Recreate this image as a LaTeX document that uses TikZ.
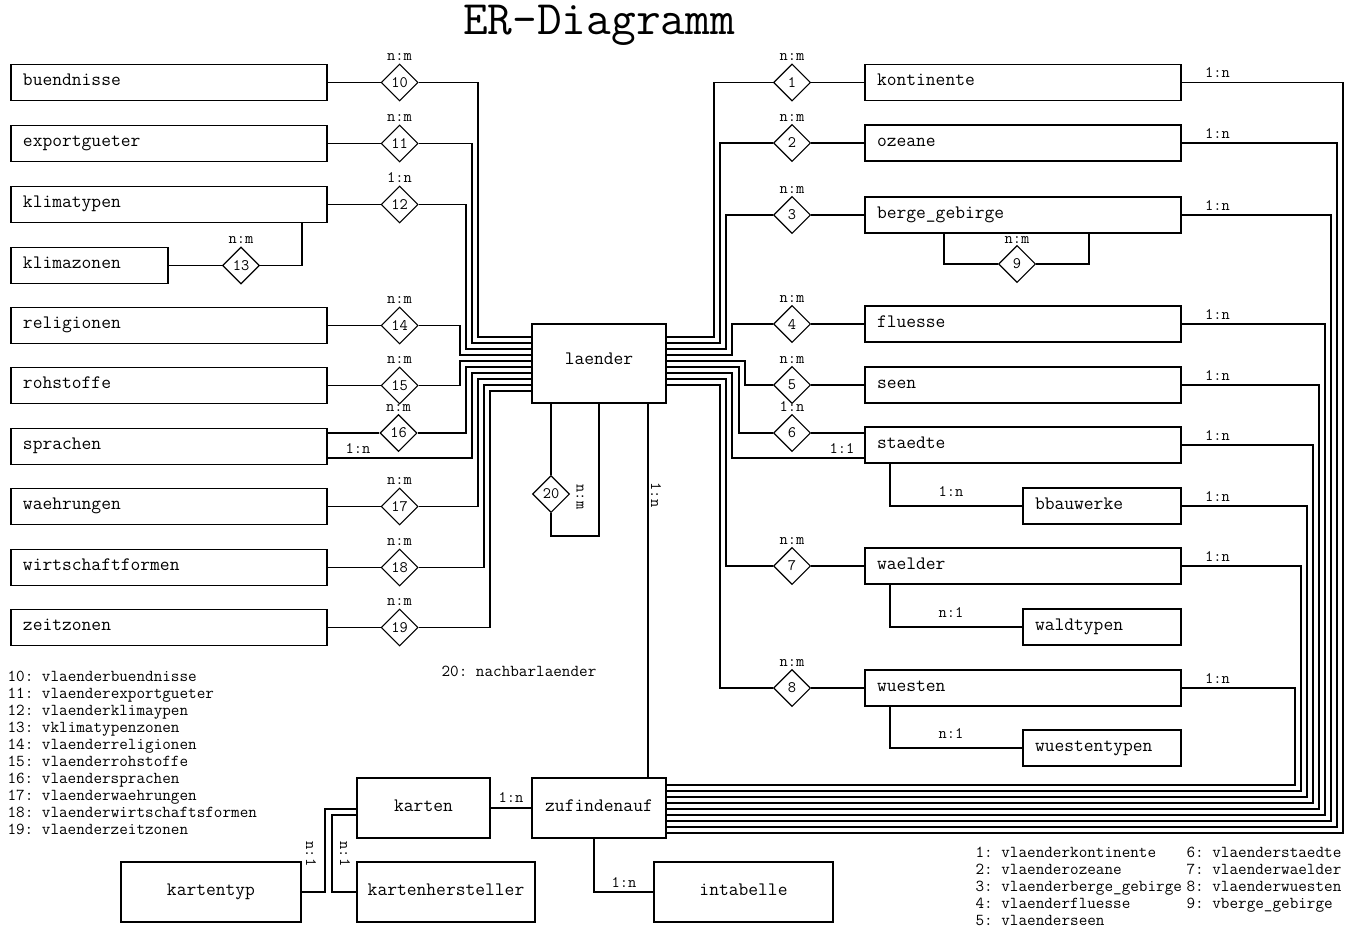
\documentclass[tikz,border=0pt]{standalone}
\usetikzlibrary{shapes.geometric,positioning}
\newcommand\entfont{\ttfamily\fontsize{19}{20}\selectfont}
\newcommand\lblfont{\ttfamily\fontsize{16}{17}\selectfont}
\newcommand\legfont{\ttfamily\fontsize{16.7}{17}\selectfont}
\frenchspacing
\tikzset{
  ent/.style={draw,rectangle,inner sep=0pt,minimum height=36pt,text height=1.6ex,text depth=0pt,font=\entfont},
  entl/.style={ent,inner xsep=12pt,align=left,text width=#1},
  rel/.style={draw,diamond,aspect=1,minimum size=37pt,inner sep=0pt,font=\lblfont},
  lbl/.style={inner sep=0pt,font=\lblfont},
  legend/.style={inner sep=0pt,anchor=base west,font=\legfont}
}
\begin{document}
\begin{tikzpicture}[x=1pt,y=-1pt,line width=1.1pt]
\useasboundingbox (0,0) rectangle (1346,928);

\node[inner sep=0pt,anchor=base,font=\ttfamily\fontsize{48}{48}\selectfont] (title) at (599,35) {ER-Diagramm};

% left entities and their relations
\foreach \n/\y in {buendnisse/82.5,exportgueter/143.5,klimatypen/204.5,religionen/325.5,rohstoffe/385.5,sprachen/446.5,waehrungen/506.5,wirtschaftformen/567.5,zeitzonen/627.5}
  \node[entl=292pt] (\n) at (169,\y) {\n};
\node[entl=133pt] (klimazonen) at (89.5,265.5) {klimazonen};

\foreach \n/\r in {buendnisse/10,exportgueter/11,klimatypen/12,religionen/14,rohstoffe/15,waehrungen/17,wirtschaftformen/18,zeitzonen/19}{
  \node[rel,right=53pt of \n] (r\r) {\r};
  \draw (\n) -- (r\r);
}
\node[rel] (r16) at (398.5,433) {16};
\node[rel] (r13) at (241,265.5) {13};
\draw (sprachen.east |- r16) -- (r16);
\draw (klimazonen) -- (r13);
\draw (r13) -| (klimatypen.south -| 302,0);

\foreach \r/\c in {10/n:m,11/n:m,12/1:n,13/n:m,14/n:m,15/n:m,16/n:m,17/n:m,18/n:m,19/n:m}
  \node[lbl,above=2pt of r\r] {\c};

% laender
\node[ent,minimum width=134pt,minimum height=79pt,text depth=1.2ex] (laender) at (599,363.5) {laender};

\foreach \s/\x/\y in {r10/478/337,r11/472/343,r12/466/349,r14/460/355,r15/460/361,r16/466/367,r17/478/379,r18/484/385,r19/490/391}
  \draw (\s) -| (\x,\y) -- (laender.west |- 0,\y);
\draw (sprachen.east |- 0,458) -| (472,373) -- (laender.west |- 0,373);
\node[lbl,anchor=south] at (358,454) {1:n};

% right entities and their relations
\foreach \n/\t/\y in {kontinente/kontinente/82.5,ozeane/ozeane/143,berge/berge\_gebirge/215,fluesse/fluesse/324,seen/seen/385,staedte/staedte/445,waelder/waelder/566,wuesten/wuesten/688}
  \node[entl=292pt] (\n) at (1023,\y) {\t};
\foreach \n/\y in {bbauwerke/506,waldtypen/627,wuestentypen/748}
  \node[entl=134pt] (\n) at (1102,\y) {\n};

\foreach \r/\y in {1/82.5,2/143,3/215,4/324,5/385,6/433,7/566,8/688}
  \node[rel] (r\r) at (792,\y) {\r};
\node[rel] (r9) at (1017,264) {9};

\foreach \r/\c in {1/n:m,2/n:m,3/n:m,4/n:m,5/n:m,6/1:n,7/n:m,8/n:m}
  \node[lbl,above=2pt of r\r] {\c};
\node[lbl,above=1pt of r9] {n:m};

\foreach \s/\x/\y in {r1/714/337,r2/720/343,r3/726/349,r4/732/355,r5/745/361,r6/739/367,r7/726/379,r8/720/385}
  \draw (laender.east |- 0,\y) -| (\x,0 |- \s) -- (\s);
\draw (laender.east |- 0,373) -| (732,458) -- (staedte.west |- 0,458);
\node[lbl,anchor=south] at (842,454) {1:1};

\foreach \r/\n in {1/kontinente,2/ozeane,3/berge,4/fluesse,5/seen,7/waelder,8/wuesten}
  \draw (r\r) -- (\n);
\draw (r6) -- (staedte.west |- r6);

\draw (berge.south -| 944,0) |- (r9);
\draw (r9) -| (berge.south -| 1089,0);

\draw (staedte.south -| 890,0) |- (bbauwerke);
\draw (waelder.south -| 890,0) |- (waldtypen);
\draw (wuesten.south -| 890,0) |- (wuestentypen);
\node[lbl,anchor=south] at (951,497) {1:n};
\node[lbl,anchor=south] at (951,618) {n:1};
\node[lbl,anchor=south] at (951,739) {n:1};

% lower part
\node[ent,minimum width=134pt,minimum height=60pt] (zufindenauf) at (599,808) {zufindenauf};
\node[ent,minimum width=133pt,minimum height=60pt] (karten) at (423.5,808) {karten};
\node[ent,minimum width=180pt,minimum height=60pt] (kartentyp) at (211,892) {kartentyp};
\node[ent,minimum width=178pt,minimum height=60pt] (kartenhersteller) at (446,892) {kartenhersteller};
\node[ent,minimum width=179pt,minimum height=60pt] (intabelle) at (743.5,892) {intabelle};

\foreach \n [count=\k from 0] in {wuesten,waelder,bbauwerke,staedte,seen,fluesse,berge,ozeane,kontinente}{
  \pgfmathsetmacro\xx{1295+6*\k}
  \pgfmathsetmacro\yy{785+6*\k}
  \draw (\n.east) -| (\xx,\yy) -- (zufindenauf.east |- 0,\yy);
  \node[lbl,anchor=south] at ([xshift=36pt,yshift=4pt]\n.east) {1:n};
}

\draw (laender.south -| 648,0) -- (zufindenauf.north -| 648,0);
\node[lbl,rotate=-90] at (656,495) {1:n};

\node[rel] (r20) at (551,494) {20};
\draw (laender.south -| 551,0) -- (r20);
\draw (r20) |- (599,536) -- (laender.south -| 599,0);
\node[lbl,rotate=-90] at (580,497) {n:m};

\draw (karten) -- (zufindenauf);
\node[lbl,anchor=south] at (511,803) {1:n};
\draw (zufindenauf.south -| 594,0) |- (intabelle);
\node[lbl,anchor=south] at (624,888) {1:n};
\draw (karten.west |- 0,809) -| (325,892) -- (kartentyp);
\draw (karten.west |- 0,815) -| (332,892) -- (kartenhersteller);
\node[lbl,rotate=-90] at (311,854) {n:1};
\node[lbl,rotate=-90] at (345,854) {n:1};

% legends
\foreach \t [count=\i from 0] in {10: vlaenderbuendnisse,11: vlaenderexportgueter,12: vlaenderklimaypen,13: vklimatypenzonen,14: vlaenderreligionen,15: vlaenderrohstoffe,16: vlaendersprachen,17: vlaenderwaehrungen,18: vlaenderwirtschaftsformen,19: vlaenderzeitzonen}
  \node[legend] at (7,{681+17*\i}) {\t};
\node[legend] at (441,676) {20: nachbarlaender};
\foreach \t [count=\i from 0] in {1: vlaenderkontinente,2: vlaenderozeane,3: vlaenderberge\_gebirge,4: vlaenderfluesse,5: vlaenderseen}
  \node[legend] at (975,{857+17*\i}) {\t};
\foreach \t [count=\i from 0] in {6: vlaenderstaedte,7: vlaenderwaelder,8: vlaenderwuesten,9: vberge\_gebirge}
  \node[legend] at (1186,{857+17*\i}) {\t};
\end{tikzpicture}
\end{document}
